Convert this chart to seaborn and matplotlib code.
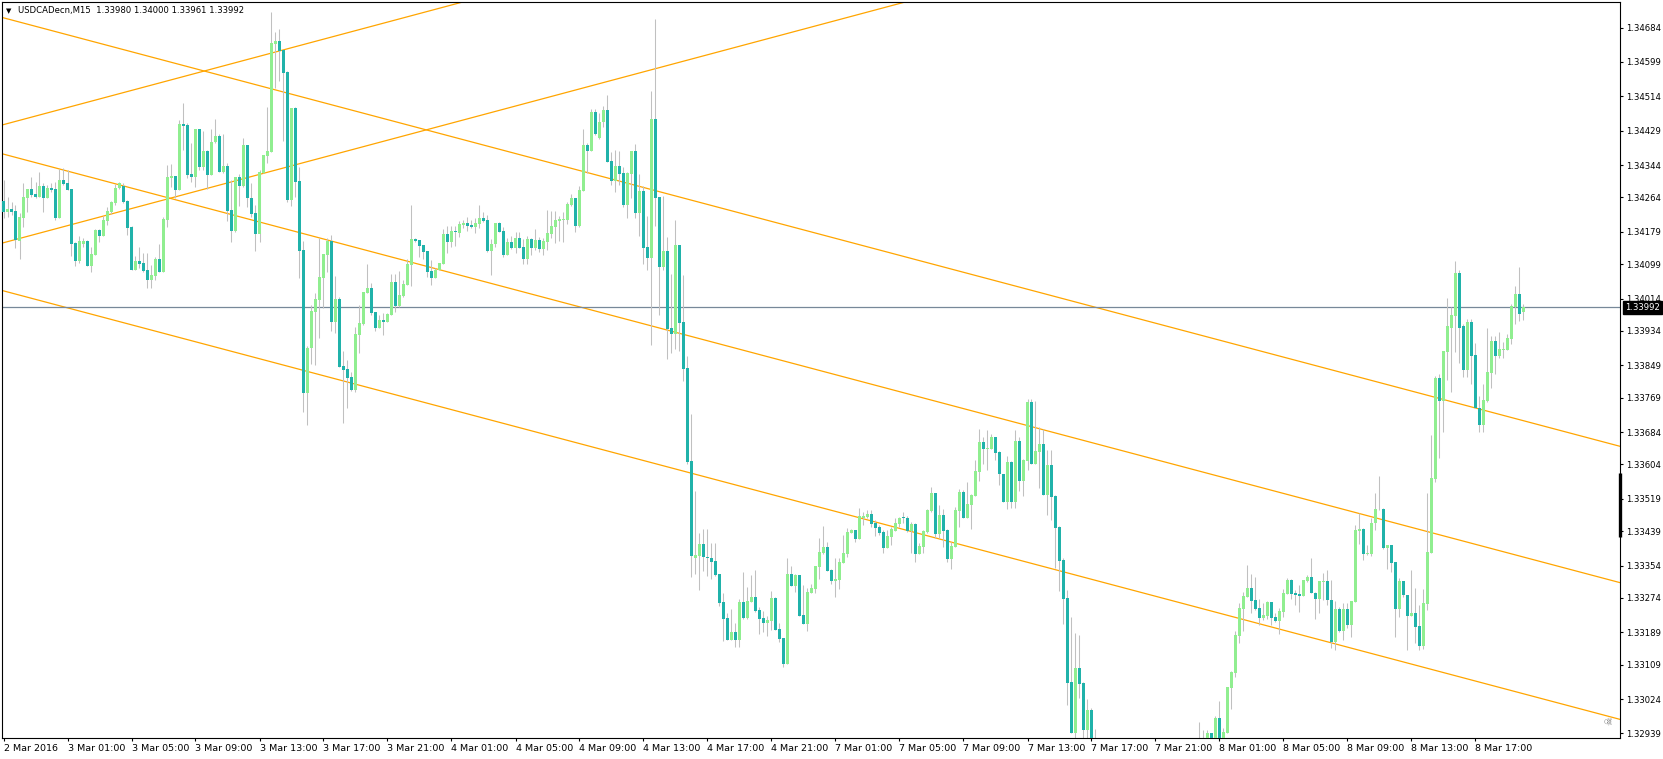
import numpy as np
import pandas as pd
import matplotlib
matplotlib.use("Agg")
import matplotlib.pyplot as plt
import matplotlib.transforms as mtransforms
import seaborn as sns

# ---- chart data -------------------------------------------------------------
title_text = "USDCADecn,M15  1.33980 1.34000 1.33961 1.33992"
last_price = 1.33992

time_labels = ["2 Mar 2016", "3 Mar 01:00", "3 Mar 05:00", "3 Mar 09:00", "3 Mar 13:00",
               "3 Mar 17:00", "3 Mar 21:00", "4 Mar 01:00", "4 Mar 05:00", "4 Mar 09:00",
               "4 Mar 13:00", "4 Mar 17:00", "4 Mar 21:00", "7 Mar 01:00", "7 Mar 05:00",
               "7 Mar 09:00", "7 Mar 13:00", "7 Mar 17:00", "7 Mar 21:00", "8 Mar 01:00",
               "8 Mar 05:00", "8 Mar 09:00", "8 Mar 13:00", "8 Mar 17:00"]
bars_per_label = 16

price_ticks = [1.34684, 1.34599, 1.34514, 1.34429, 1.34344, 1.34264, 1.34179, 1.34099,
               1.34014, 1.33934, 1.33849, 1.33769, 1.33684, 1.33604, 1.33519, 1.33439,
               1.33354, 1.33274, 1.33189, 1.33109, 1.33024, 1.32939]

# M15 candles, prices in points (1 point = 0.00001)
open_pts = [
    134255, 134228, 134235, 134230, 134157, 134214, 134263, 134285, 134273, 134265,
    134292, 134263, 134287, 134285, 134214, 134307, 134300, 134285, 134151, 134107,
    134150, 134157, 134095, 134122, 134183, 134169, 134206, 134227, 134251, 134288,
    134293, 134255, 134191, 134085, 134107, 134102, 134085, 134060, 134070, 134112,
    134080, 134208, 134313, 134317, 134282, 134446, 134443, 134322, 134315, 134433,
    134338, 134379, 134319, 134400, 134416, 134328, 134342, 134233, 134182, 134315,
    134292, 134394, 134263, 134225, 134174, 134325, 134367, 134377, 134644, 134651,
    134628, 134574, 134258, 134485, 134305, 134134, 133781, 133891, 133982, 134010,
    134066, 134122, 134157, 133957, 134013, 133847, 133840, 133820, 133788, 133925,
    133952, 134028, 134039, 133980, 133942, 133961, 133957, 133974, 134054, 133996,
    134021, 134047, 134097, 134161, 134159, 134146, 134132, 134082, 134066, 134085,
    134099, 134174, 134155, 134181, 134177, 134197, 134200, 134196, 134192, 134199,
    134213, 134208, 134132, 134150, 134201, 134181, 134122, 134154, 134138, 134163,
    134141, 134112, 134161, 134138, 134159, 134136, 134155, 134174, 134192, 134206,
    134208, 134208, 134245, 134262, 134193, 134280, 134394, 134379, 134475, 134410,
    134450, 134479, 134354, 134305, 134341, 134324, 134245, 134322, 134378, 134226,
    134279, 134142, 134114, 134457, 134266, 134093, 134132, 133941, 133926, 134147,
    133956, 133842, 133613, 133373, 133378, 133407, 133375, 133373, 133365, 133333,
    133264, 133225, 133170, 133190, 133170, 133264, 133224, 133264, 133276, 133244,
    133225, 133211, 133218, 133274, 133197, 133175, 133111, 133333, 133304, 133331,
    133232, 133210, 133286, 133296, 133351, 133384, 133400, 133343, 133317, 133318,
    133361, 133383, 133435, 133442, 133420, 133471, 133475, 133481, 133460, 133450,
    133437, 133398, 133425, 133440, 133457, 133472, 133472, 133439, 133457, 133383,
    133401, 133437, 133490, 133534, 133433, 133479, 133442, 133370, 133401, 133490,
    133536, 133472, 133504, 133526, 133586, 133660, 133642, 133642, 133671, 133635,
    133581, 133510, 133611, 133510, 133662, 133564, 133613, 133758, 133605, 133635,
    133654, 133528, 133603, 133526, 133449, 133368, 133273, 133066, 132940, 133101,
    133063, 132947, 132997, 132886, 132854, 132824, 132799, 132836, 132811, 132844,
    132873, 132849, 132819, 132836, 132858, 132844, 132863, 132878, 132858, 132849,
    132873, 132861, 132883, 132868, 132893, 132878, 132898, 132886, 132903, 132893,
    132908, 132915, 132939, 132913, 132977, 132920, 132941, 133052, 133089, 133181,
    133247, 133277, 133298, 133269, 133248, 133225, 133230, 133264, 133226, 133218,
    133240, 133284, 133318, 133286, 133284, 133279, 133316, 133326, 133286, 133271,
    133314, 133316, 133270, 133166, 133246, 133193, 133246, 133207, 133265, 133440,
    133444, 133383, 133383, 133458, 133493, 133494, 133398, 133405, 133363, 133247,
    133316, 133281, 133229, 133236, 133205, 133155, 133259, 133386, 133568, 133817,
    133762, 133883, 133942, 133972, 134076, 133945, 133837, 133955, 133874, 133743,
    133701, 133762, 133829, 133909, 133873, 133887, 133887, 133914, 133994, 134025,
    133980]

high_pts = [
    134307, 134266, 134253, 134245, 134225, 134300, 134286, 134315, 134303, 134327,
    134300, 134295, 134299, 134303, 134334, 134336, 134332, 134285, 134155, 134169,
    134163, 134159, 134142, 134186, 134187, 134219, 134241, 134255, 134297, 134301,
    134299, 134258, 134193, 134119, 134142, 134126, 134126, 134097, 134116, 134149,
    134216, 134344, 134346, 134317, 134455, 134497, 134447, 134398, 134433, 134433,
    134428, 134381, 134432, 134457, 134422, 134421, 134349, 134307, 134314, 134321,
    134410, 134394, 134299, 134245, 134333, 134369, 134488, 134723, 134674, 134680,
    134628, 134577, 134485, 134488, 134338, 134157, 133897, 133998, 134027, 134164,
    134123, 134163, 134171, 134070, 134019, 133884, 133862, 133833, 133944, 133998,
    134031, 134099, 134052, 133980, 133973, 133978, 133978, 134075, 134075, 134082,
    134060, 134113, 134245, 134163, 134159, 134146, 134132, 134109, 134089, 134101,
    134185, 134194, 134194, 134194, 134206, 134207, 134216, 134208, 134212, 134245,
    134229, 134220, 134160, 134201, 134204, 134192, 134163, 134169, 134179, 134179,
    134160, 134169, 134163, 134186, 134167, 134163, 134233, 134230, 134230, 134218,
    134229, 134253, 134272, 134263, 134292, 134433, 134398, 134483, 134483, 134472,
    134490, 134518, 134376, 134381, 134379, 134339, 134327, 134378, 134397, 134321,
    134292, 134218, 134528, 134706, 134266, 134268, 134167, 134075, 134208, 134147,
    134073, 133872, 133729, 133538, 133434, 133444, 133444, 133409, 133409, 133333,
    133287, 133236, 133247, 133211, 133271, 133339, 133302, 133331, 133343, 133252,
    133242, 133229, 133291, 133276, 133211, 133175, 133373, 133353, 133332, 133331,
    133306, 133299, 133308, 133353, 133423, 133452, 133413, 133345, 133372, 133372,
    133429, 133446, 133444, 133442, 133497, 133486, 133491, 133491, 133467, 133454,
    133442, 133442, 133450, 133471, 133475, 133487, 133477, 133462, 133458, 133409,
    133442, 133493, 133549, 133534, 133504, 133493, 133444, 133413, 133498, 133544,
    133541, 133560, 133531, 133615, 133691, 133672, 133689, 133680, 133672, 133636,
    133581, 133626, 133612, 133689, 133672, 133617, 133766, 133766, 133761, 133697,
    133691, 133640, 133640, 133528, 133452, 133373, 133294, 133228, 133188, 133182,
    133066, 133024, 133001, 132950, 132893, 132861, 132849, 132873, 132854, 132886,
    132903, 132886, 132861, 132873, 132893, 132878, 132898, 132910, 132893, 132886,
    132903, 132898, 132913, 132903, 132917, 132910, 132917, 132915, 132920, 132968,
    132947, 132947, 132940, 132982, 133019, 132952, 133054, 133093, 133192, 133261,
    133289, 133355, 133333, 133325, 133271, 133261, 133266, 133265, 133236, 133249,
    133296, 133324, 133321, 133294, 133306, 133318, 133331, 133373, 133289, 133316,
    133336, 133343, 133318, 133266, 133252, 133261, 133261, 133266, 133454, 133483,
    133446, 133405, 133471, 133534, 133575, 133497, 133405, 133405, 133363, 133322,
    133316, 133281, 133343, 133298, 133256, 133296, 133533, 133677, 133823, 133828,
    133884, 134015, 133994, 134107, 134085, 133951, 133964, 133964, 133903, 133774,
    133804, 133942, 133922, 133922, 133931, 133906, 133926, 134000, 134045, 134092,
    134000]

low_pts = [
    134212, 134216, 134220, 134138, 134113, 134192, 134229, 134266, 134262, 134265,
    134229, 134262, 134278, 134208, 134212, 134295, 134282, 134119, 134095, 134101,
    134142, 134095, 134080, 134122, 134155, 134169, 134196, 134222, 134245, 134284,
    134249, 134171, 134085, 134085, 134089, 134079, 134039, 134039, 134060, 134080,
    134080, 134192, 134291, 134262, 134282, 134381, 134311, 134303, 134291, 134332,
    134332, 134286, 134319, 134398, 134328, 134324, 134206, 134153, 134179, 134243,
    134289, 134241, 134216, 134132, 134153, 134324, 134348, 134377, 134534, 134552,
    134404, 134253, 134244, 134264, 134066, 133734, 133701, 133852, 133850, 133917,
    133990, 134080, 133934, 133928, 133846, 133706, 133744, 133785, 133784, 133879,
    133949, 134027, 133973, 133935, 133940, 133924, 133955, 133974, 133980, 133994,
    134019, 134047, 134046, 134155, 134117, 134113, 134068, 134047, 134066, 134085,
    134099, 134126, 134142, 134144, 134167, 134189, 134181, 134189, 134175, 134188,
    134204, 134130, 134072, 134142, 134179, 134117, 134122, 134136, 134126, 134138,
    134099, 134099, 134122, 134134, 134130, 134122, 134134, 134163, 134152, 134156,
    134155, 134198, 134243, 134179, 134192, 134280, 134324, 134379, 134418, 134408,
    134439, 134352, 134295, 134277, 134295, 134241, 134213, 134263, 134213, 134169,
    134099, 134085, 133899, 134193, 133974, 134085, 133864, 133879, 133889, 133884,
    133811, 133605, 133325, 133333, 133294, 133341, 133329, 133321, 133329, 133255,
    133168, 133170, 133170, 133153, 133153, 133222, 133222, 133263, 133240, 133186,
    133189, 133181, 133195, 133195, 133166, 133102, 133111, 133303, 133289, 133229,
    133210, 133191, 133286, 133287, 133321, 133383, 133341, 133308, 133277, 133296,
    133361, 133376, 133434, 133413, 133420, 133454, 133472, 133449, 133427, 133429,
    133386, 133398, 133405, 133440, 133450, 133458, 133438, 133384, 133364, 133383,
    133386, 133434, 133487, 133423, 133423, 133401, 133362, 133345, 133399, 133449,
    133472, 133472, 133444, 133526, 133564, 133605, 133590, 133641, 133615, 133553,
    133510, 133493, 133496, 133496, 133539, 133526, 133590, 133605, 133605, 133546,
    133528, 133479, 133467, 133347, 133292, 133210, 133009, 132940, 132910, 133026,
    132910, 132918, 132861, 132836, 132799, 132774, 132762, 132799, 132774, 132811,
    132829, 132799, 132787, 132804, 132824, 132809, 132831, 132844, 132824, 132816,
    132836, 132829, 132849, 132836, 132854, 132849, 132861, 132854, 132873, 132868,
    132886, 132898, 132893, 132903, 132903, 132910, 132941, 132999, 133079, 133162,
    133191, 133277, 133237, 133244, 133207, 133219, 133221, 133207, 133215, 133186,
    133226, 133283, 133271, 133256, 133240, 133279, 133314, 133285, 133221, 133237,
    133269, 133256, 133149, 133145, 133190, 133170, 133199, 133177, 133265, 133407,
    133368, 133380, 133378, 133442, 133491, 133395, 133346, 133339, 133177, 133228,
    133277, 133145, 133229, 133163, 133145, 133147, 133244, 133384, 133560, 133621,
    133685, 133813, 133784, 133883, 133855, 133821, 133821, 133804, 133743, 133685,
    133685, 133759, 133792, 133827, 133866, 133868, 133887, 133902, 133951, 133959,
    133961]

close_pts = [
    134228, 134235, 134228, 134159, 134216, 134265, 134285, 134270, 134266, 134292,
    134263, 134287, 134282, 134214, 134307, 134298, 134283, 134150, 134107, 134157,
    134157, 134095, 134124, 134183, 134169, 134208, 134230, 134252, 134288, 134299,
    134253, 134189, 134085, 134107, 134099, 134082, 134060, 134072, 134112, 134080,
    134211, 134315, 134317, 134282, 134446, 134441, 134319, 134315, 134433, 134338,
    134379, 134319, 134401, 134416, 134328, 134342, 134231, 134182, 134315, 134292,
    134394, 134262, 134223, 134174, 134327, 134369, 134379, 134646, 134651, 134627,
    134572, 134258, 134485, 134303, 134132, 133781, 133891, 133983, 134013, 134068,
    134123, 134157, 133957, 134013, 133846, 133837, 133818, 133788, 133926, 133954,
    134029, 134039, 133979, 133942, 133961, 133957, 133976, 134054, 133996, 134023,
    134050, 134099, 134161, 134156, 134144, 134130, 134080, 134066, 134085, 134101,
    134174, 134155, 134181, 134178, 134198, 134200, 134193, 134192, 134200, 134213,
    134206, 134132, 134150, 134201, 134179, 134122, 134154, 134138, 134163, 134139,
    134112, 134161, 134138, 134159, 134136, 134157, 134176, 134193, 134208, 134211,
    134210, 134248, 134262, 134193, 134282, 134394, 134379, 134474, 134421, 134450,
    134479, 134352, 134305, 134341, 134322, 134245, 134324, 134378, 134226, 134279,
    134139, 134114, 134457, 134263, 134093, 134132, 133939, 133926, 134147, 133954,
    133840, 133610, 133377, 133380, 133407, 133375, 133373, 133364, 133331, 133262,
    133222, 133170, 133190, 133170, 133264, 133224, 133266, 133276, 133242, 133222,
    133211, 133219, 133274, 133195, 133173, 133111, 133333, 133304, 133331, 133230,
    133210, 133289, 133298, 133353, 133388, 133400, 133341, 133317, 133321, 133364,
    133386, 133437, 133442, 133420, 133477, 133477, 133481, 133457, 133448, 133435,
    133398, 133427, 133444, 133458, 133472, 133471, 133439, 133457, 133383, 133402,
    133439, 133491, 133534, 133433, 133479, 133440, 133370, 133403, 133491, 133536,
    133472, 133505, 133528, 133588, 133660, 133642, 133644, 133671, 133633, 133580,
    133510, 133611, 133510, 133662, 133564, 133615, 133758, 133605, 133637, 133654,
    133528, 133603, 133524, 133447, 133366, 133271, 133064, 132940, 133101, 133061,
    132947, 132997, 132886, 132854, 132824, 132799, 132836, 132811, 132844, 132873,
    132849, 132819, 132836, 132858, 132844, 132863, 132878, 132858, 132849, 132873,
    132861, 132883, 132868, 132893, 132878, 132898, 132886, 132903, 132893, 132908,
    132915, 132939, 132913, 132977, 132920, 132943, 133054, 133091, 133182, 133248,
    133279, 133298, 133267, 133247, 133225, 133232, 133264, 133225, 133218, 133242,
    133286, 133318, 133284, 133282, 133279, 133318, 133326, 133285, 133272, 133316,
    133316, 133270, 133166, 133246, 133193, 133246, 133207, 133266, 133442, 133444,
    133383, 133384, 133460, 133493, 133494, 133398, 133405, 133361, 133247, 133316,
    133280, 133229, 133236, 133203, 133155, 133261, 133388, 133570, 133817, 133762,
    133884, 133945, 133973, 134076, 133942, 133837, 133955, 133873, 133743, 133701,
    133763, 133832, 133909, 133873, 133889, 133889, 133916, 133996, 134025, 133976,
    133992]

# trend lines: two anchor points each (bar index, price)
trend_bars = {"upper_down": [0, 380], "mid_down": [0, 380], "low_down": [0, 380],
              "upper_up": [0, 100], "low_up": [0, 200]}
trend_prices = {"upper_down": [1.34708, 1.33712], "mid_down": [1.34371, 1.33375],
                "low_down": [1.34033, 1.33037], "upper_up": [1.34444, 1.34708],
                "low_up": [1.34152, 1.34680]}

# ---- style ------------------------------------------------------------------
sns.set_theme(style="white")
plt.rcParams["font.family"] = ["DejaVu Sans"]
plt.rcParams["axes.linewidth"] = 0.8
plt.rcParams["axes.edgecolor"] = "black"

BULL = "#90ee90"
BEAR = "#20b2aa"
WICK = "#c0c0c0"
TREND = "#ffa500"
PRICE_LINE = "#778899"

W, H = 1663, 759
fig = plt.figure(figsize=(W / 100, H / 100), dpi=100, facecolor="white")
ax = fig.add_axes([2 / W, 21 / H, 1618 / W, 736 / H])
ax.set_facecolor("white")

df = pd.DataFrame({
    "open": np.array(open_pts) / 1e5,
    "high": np.array(high_pts) / 1e5,
    "low": np.array(low_pts) / 1e5,
    "close": np.array(close_pts) / 1e5,
})
df["bar"] = np.arange(len(df))
df["high"] = df[["high", "open", "close"]].max(axis=1)
df["low"] = df[["low", "open", "close"]].min(axis=1)
up = df["close"] >= df["open"]

# trend lines (extended over the whole window)
x_span = np.array([-2.0, 406.0])
for name in trend_bars:
    bx, py = trend_bars[name], trend_prices[name]
    slope = (py[1] - py[0]) / (bx[1] - bx[0])
    sns.lineplot(x=x_span, y=py[0] + slope * (x_span - bx[0]), ax=ax,
                 color=TREND, linewidth=0.9, zorder=1)

ax.axhline(last_price, color=PRICE_LINE, linewidth=0.9, zorder=1.5)

# candles
ax.vlines(df["bar"], df["low"], df["high"], color=WICK, linewidth=0.75, zorder=2)
body = (df["close"] - df["open"]).abs().clip(lower=0.000018)
ax.bar(df["bar"], body, bottom=df[["open", "close"]].min(axis=1), width=0.75,
       color=np.where(up, BULL, BEAR), linewidth=0, zorder=3)

ax.set_xlim(-0.375, 404.125)
ax.set_ylim(1.329277, 1.347471)

# axes / ticks
for s in ax.spines.values():
    s.set_visible(True)
    s.set_color("black")
    s.set_linewidth(0.8)

ax.yaxis.tick_right()
ax.set_yticks(price_ticks)
ax.set_yticklabels([f"{p:.5f}" for p in price_ticks], fontsize=6.1, color="black")
ax.tick_params(axis="y", which="both", direction="out", length=2.3, width=0.8,
               pad=2.2, colors="black", left=False, right=True)

label_bars = np.arange(len(time_labels)) * bars_per_label
ax.set_xticks(label_bars)
ax.set_xticklabels(time_labels, fontsize=6.8, color="black", ha="left")
ax.tick_params(axis="x", which="both", direction="out", length=2.3, width=0.8,
               pad=2.0, colors="black", bottom=True, top=False)
ax.grid(False)

# current price tag on the price scale
trans = mtransforms.blended_transform_factory(ax.transAxes, ax.transData)
ax.text(1 + 5 / 1618, last_price, f"{last_price:.5f}", transform=trans,
        ha="left", va="center", fontsize=6.1, color="white", zorder=10, clip_on=False,
        bbox=dict(boxstyle="square,pad=0.28", fc="black", ec="black"))

# scroll marker on the price scale
ax.plot([1, 1], [1.33425, 1.33583], transform=trans, color="black", linewidth=2.4,
        solid_capstyle="butt", clip_on=False, zorder=10)

# small icon in the lower right corner
ax.text(0.9932, 0.023, "\u2620", transform=ax.transAxes, fontsize=7, color="#808080",
        ha="center", va="center", rotation=90)

# title
fig.text(6 / W, 1 - 11 / H, "\u25bc", fontsize=5, color="black", va="center", ha="left")
fig.text(18 / W, 1 - 11 / H, title_text, fontsize=6.1, color="black", va="center", ha="left")

fig.savefig("out.png", dpi=100, facecolor="white")
